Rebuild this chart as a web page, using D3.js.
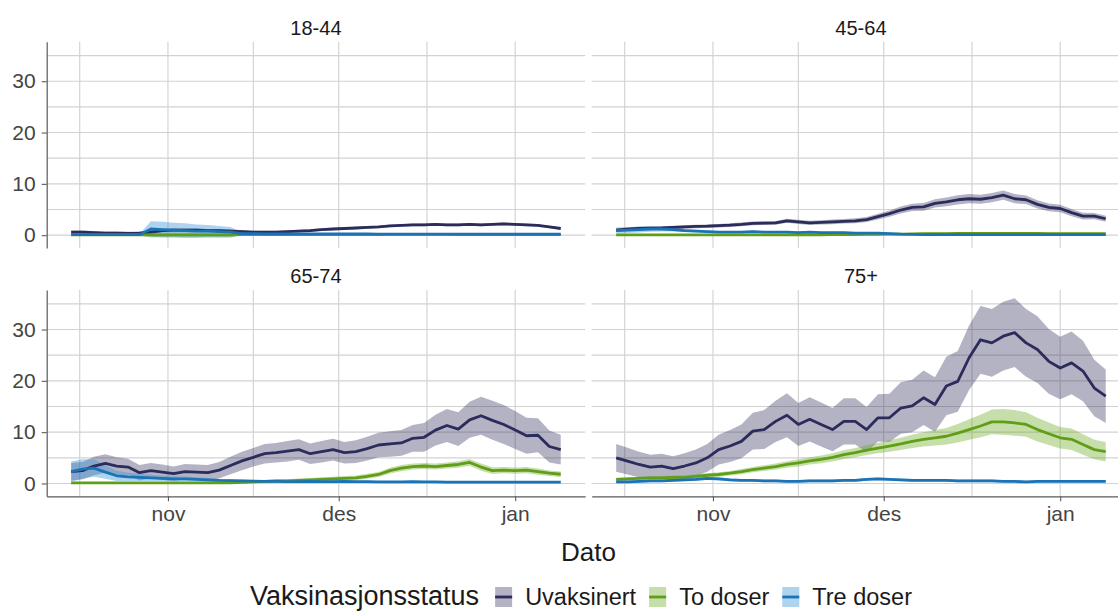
<!DOCTYPE html>
<html>
<head>
<meta charset="utf-8">
<script src="https://cdn.jsdelivr.net/npm/d3@7"></script>
<style>
  html, body { margin: 0; padding: 0; background: #ffffff; }
  svg { display: block; font-family: "Liberation Sans", Arial, Helvetica, sans-serif; }
</style>
</head>
<body>
<svg id="chart" width="1118" height="611"></svg>
<script>
// Observation dates (every second day)
const dates = [
  "2021-10-15","2021-10-17","2021-10-19","2021-10-21","2021-10-23","2021-10-25","2021-10-27","2021-10-29","2021-10-31",
  "2021-11-02","2021-11-04","2021-11-06","2021-11-08","2021-11-10","2021-11-12","2021-11-14","2021-11-16","2021-11-18",
  "2021-11-20","2021-11-22","2021-11-24","2021-11-26","2021-11-28","2021-11-30",
  "2021-12-02","2021-12-04","2021-12-06","2021-12-08","2021-12-10","2021-12-12","2021-12-14","2021-12-16","2021-12-18",
  "2021-12-20","2021-12-22","2021-12-24","2021-12-26","2021-12-28","2021-12-30",
  "2022-01-01","2022-01-03","2022-01-05","2022-01-07","2022-01-09"
];

const ageGroups = ["18-44", "45-64", "65-74", "75+"];
const statusNames = ["Uvaksinert", "To doser", "Tre doser"];

const xTickDates = ["2021-11-01", "2021-12-01", "2022-01-01"];
const xTickLabels = ["nov", "des", "jan"];
const yTicks = [0, 10, 20, 30];
const yMinorTicks = [5, 15, 25, 35];

// ---- 18-44 ----
const uvak_18_44 = [0.6,0.6,0.5,0.4,0.4,0.35,0.4,0.6,0.9,1.0,1.0,1.0,0.9,0.9,0.8,0.7,0.6,0.6,0.6,0.7,0.8,0.9,1.1,1.2,
  1.3,1.4,1.5,1.6,1.8,1.9,2.0,2.0,2.1,2.0,2.0,2.1,2.0,2.1,2.2,2.1,2.0,1.9,1.6,1.3];
const uvakBand_18_44 = [0.3,0.3,0.3,0.3,0.3,0.3,0.3,0.35,0.35,0.35,0.35,0.35,0.3,0.3,0.3,0.3,0.25,0.25,0.25,0.25,0.25,0.25,0.25,0.25,
  0.25,0.25,0.25,0.25,0.25,0.25,0.25,0.25,0.25,0.25,0.25,0.25,0.25,0.25,0.25,0.25,0.25,0.25,0.25,0.25];
const toDoser_18_44 = [0.05,0.05,0.05,0.05,0.05,0.05,0.05,0.05,0.05,0.05,0.05,0.05,0.05,0.05,0.05,0.1,0.1,0.1,0.1,0.1,0.1,0.1,0.1,0.1,
  0.1,0.1,0.1,0.1,0.15,0.15,0.15,0.15,0.15,0.15,0.1,0.1,0.1,0.1,0.1,0.1,0.1,0.1,0.1,0.1];
const toDoserBand_18_44 = [0.1,0.1,0.1,0.1,0.1,0.1,0.1,0.5,0.5,0.5,0.5,0.5,0.5,0.5,0.5,0.1,0.1,0.1,0.1,0.1,0.1,0.1,0.1,0.1,
  0.1,0.1,0.1,0.1,0.15,0.15,0.15,0.15,0.15,0.15,0.1,0.1,0.1,0.1,0.1,0.1,0.1,0.1,0.1,0.1];
const treDoser_18_44 = [0.1,0.1,0.1,0.1,0.1,0.1,0.1,1.2,1.1,1.0,0.9,0.8,0.8,0.7,0.6,0.3,0.3,0.25,0.25,0.25,0.25,0.25,0.25,0.25,
  0.25,0.25,0.25,0.2,0.2,0.2,0.2,0.2,0.2,0.2,0.2,0.2,0.2,0.2,0.2,0.2,0.2,0.2,0.2,0.2];
const treDoserBand_18_44 = [0.15,0.15,0.15,0.15,0.15,0.15,0.15,1.5,1.5,1.4,1.4,1.3,1.2,1.1,1.0,0.2,0.2,0.15,0.15,0.15,0.15,0.15,0.15,0.15,
  0.15,0.15,0.15,0.15,0.15,0.15,0.15,0.15,0.15,0.15,0.15,0.15,0.15,0.15,0.15,0.15,0.15,0.15,0.15,0.15];

// ---- 45-64 ----
const uvak_45_64 = [1.0,1.15,1.3,1.35,1.4,1.5,1.6,1.7,1.75,1.85,1.95,2.1,2.3,2.35,2.4,2.8,2.6,2.4,2.5,2.6,2.7,2.8,3.05,3.6,
  4.2,4.9,5.4,5.5,6.2,6.5,6.9,7.1,7.0,7.3,7.8,7.1,6.9,6.0,5.4,5.2,4.4,3.7,3.7,3.2];
const uvakBand_45_64 = [0.35,0.35,0.35,0.35,0.35,0.35,0.35,0.35,0.35,0.35,0.35,0.35,0.35,0.35,0.35,0.4,0.4,0.4,0.4,0.45,0.45,0.5,0.5,0.55,
  0.6,0.7,0.7,0.75,0.8,0.85,0.9,0.9,0.9,0.9,0.9,0.9,0.85,0.8,0.75,0.75,0.7,0.65,0.6,0.6];
const toDoser_45_64 = [0.05,0.05,0.05,0.05,0.05,0.05,0.05,0.05,0.05,0.05,0.05,0.05,0.05,0.05,0.05,0.05,0.05,0.05,0.05,0.1,0.1,0.12,0.15,0.18,
  0.2,0.22,0.25,0.28,0.3,0.32,0.35,0.35,0.35,0.35,0.35,0.35,0.35,0.35,0.3,0.3,0.3,0.3,0.3,0.3];
const toDoserBand_45_64 = [0.1,0.1,0.1,0.1,0.1,0.1,0.1,0.1,0.1,0.1,0.1,0.1,0.1,0.1,0.1,0.1,0.1,0.1,0.1,0.1,0.1,0.1,0.1,0.1,
  0.12,0.12,0.12,0.12,0.15,0.15,0.15,0.15,0.15,0.15,0.15,0.15,0.15,0.15,0.15,0.15,0.15,0.15,0.15,0.15];
const treDoser_45_64 = [0.9,1.0,1.1,1.2,1.2,1.1,0.9,0.8,0.7,0.6,0.6,0.6,0.7,0.6,0.6,0.6,0.5,0.6,0.5,0.5,0.5,0.4,0.4,0.4,
  0.3,0.2,0.15,0.1,0.1,0.1,0.1,0.1,0.1,0.1,0.1,0.1,0.1,0.1,0.1,0.1,0.1,0.1,0.1,0.1];
const treDoserBand_45_64 = [0.6,0.6,0.6,0.55,0.5,0.4,0.3,0.25,0.2,0.2,0.2,0.2,0.2,0.15,0.15,0.15,0.15,0.15,0.15,0.15,0.15,0.15,0.15,0.15,
  0.12,0.1,0.1,0.1,0.1,0.1,0.1,0.1,0.1,0.1,0.1,0.1,0.1,0.1,0.1,0.1,0.1,0.1,0.1,0.1];

// ---- 65-74 ----
const uvak_65_74 = [2.3,2.5,3.4,3.9,3.4,3.2,2.1,2.5,2.2,1.9,2.3,2.2,2.1,2.6,3.5,4.4,5.1,5.8,6.0,6.3,6.6,5.8,6.2,6.6,
  6.0,6.2,6.8,7.5,7.7,7.9,8.8,9.0,10.4,11.3,10.6,12.4,13.2,12.3,11.5,10.4,9.3,9.4,7.2,6.6];
const uvakBand_65_74 = [1.7,1.7,1.8,1.8,1.7,1.6,1.5,1.5,1.5,1.4,1.5,1.5,1.5,1.6,1.7,1.8,1.8,1.9,1.9,2.0,2.0,2.0,2.1,2.1,
  2.1,2.2,2.3,2.4,2.5,2.5,2.6,2.8,3.0,3.2,3.3,3.5,3.7,3.8,3.8,3.7,3.5,3.3,3.1,2.9];
const toDoser_65_74 = [0.1,0.1,0.1,0.1,0.1,0.1,0.1,0.1,0.1,0.1,0.1,0.1,0.1,0.1,0.1,0.2,0.3,0.4,0.5,0.5,0.6,0.7,0.8,0.9,
  1.0,1.1,1.4,1.75,2.5,3.0,3.3,3.4,3.3,3.5,3.7,4.1,3.2,2.5,2.6,2.5,2.6,2.3,2.0,1.8];
const toDoserBand_65_74 = [0.2,0.2,0.2,0.2,0.2,0.2,0.2,0.2,0.2,0.2,0.2,0.2,0.2,0.2,0.2,0.25,0.25,0.3,0.3,0.3,0.35,0.35,0.4,0.4,
  0.45,0.45,0.5,0.5,0.55,0.6,0.6,0.6,0.6,0.6,0.65,0.65,0.7,0.65,0.6,0.6,0.6,0.6,0.55,0.55];
const treDoser_65_74 = [2.3,2.8,3.0,2.2,1.5,1.3,1.2,1.1,1.0,0.9,0.9,0.8,0.7,0.6,0.55,0.5,0.45,0.4,0.4,0.35,0.35,0.4,0.35,0.35,
  0.4,0.35,0.35,0.3,0.3,0.3,0.35,0.3,0.3,0.25,0.25,0.25,0.25,0.25,0.25,0.25,0.25,0.25,0.25,0.25];
const treDoserBand_65_74 = [2.0,1.9,1.7,1.3,1.0,0.8,0.7,0.6,0.5,0.5,0.45,0.4,0.35,0.3,0.25,0.25,0.25,0.25,0.25,0.25,0.25,0.25,0.25,0.25,
  0.2,0.2,0.2,0.2,0.2,0.2,0.2,0.2,0.2,0.2,0.2,0.2,0.2,0.2,0.2,0.2,0.2,0.2,0.2,0.2];

// ---- 75+ ----
const uvak_75 = [5.0,4.35,3.7,3.2,3.4,2.9,3.4,4.0,5.0,6.6,7.3,8.2,10.2,10.5,12.1,13.3,11.5,12.5,11.5,10.5,12.1,12.1,10.5,12.8,
  12.8,14.7,15.1,16.7,15.4,19.0,19.9,24.5,28.0,27.4,28.7,29.4,27.4,26.1,23.8,22.5,23.5,21.9,18.6,17.0];
const uvakBand_75 = [2.7,2.6,2.5,2.4,2.4,2.4,2.5,2.6,2.7,2.9,3.1,3.3,3.6,3.8,4.0,4.3,4.2,4.3,4.3,4.2,4.5,4.5,4.4,4.6,
  4.7,5.0,5.1,5.3,5.3,5.7,5.9,6.3,6.6,6.6,6.7,6.7,6.6,6.5,6.3,6.1,6.1,5.9,5.5,5.2];
const toDoser_75 = [0.8,0.9,1.0,1.1,1.1,1.2,1.2,1.4,1.6,1.75,2.0,2.3,2.7,3.0,3.3,3.7,4.0,4.4,4.7,5.1,5.6,6.0,6.5,6.9,
  7.3,7.7,8.2,8.6,8.9,9.2,9.8,10.5,11.2,12.0,12.0,11.8,11.5,10.5,9.7,8.9,8.6,7.6,6.6,6.2];
const toDoserBand_75 = [0.3,0.3,0.3,0.35,0.35,0.35,0.4,0.4,0.4,0.45,0.45,0.5,0.5,0.55,0.6,0.65,0.7,0.7,0.75,0.8,0.85,0.9,0.95,1.0,
  1.1,1.2,1.3,1.4,1.5,1.6,1.8,2.0,2.2,2.4,2.5,2.5,2.4,2.3,2.2,2.1,2.1,2.0,1.9,1.9];
const treDoser_75 = [0.3,0.3,0.4,0.5,0.5,0.6,0.7,0.8,1.0,0.9,0.7,0.6,0.6,0.5,0.5,0.4,0.4,0.5,0.5,0.5,0.6,0.6,0.8,0.9,
  0.8,0.7,0.6,0.6,0.6,0.6,0.5,0.5,0.5,0.5,0.4,0.4,0.3,0.4,0.4,0.4,0.4,0.4,0.4,0.4];
const treDoserBand_75 = [0.25,0.25,0.25,0.25,0.25,0.25,0.25,0.25,0.3,0.3,0.25,0.25,0.25,0.25,0.25,0.25,0.25,0.25,0.25,0.25,0.25,0.25,0.25,0.25,
  0.25,0.25,0.25,0.25,0.25,0.25,0.25,0.25,0.25,0.25,0.25,0.25,0.25,0.25,0.25,0.25,0.25,0.25,0.25,0.25];

// Mean and half-width of the interval, per age group and status
const panelSeries = {
  "18-44": [[uvak_18_44, uvakBand_18_44], [toDoser_18_44, toDoserBand_18_44], [treDoser_18_44, treDoserBand_18_44]],
  "45-64": [[uvak_45_64, uvakBand_45_64], [toDoser_45_64, toDoserBand_45_64], [treDoser_45_64, treDoserBand_45_64]],
  "65-74": [[uvak_65_74, uvakBand_65_74], [toDoser_65_74, toDoserBand_65_74], [treDoser_65_74, treDoserBand_65_74]],
  "75+":   [[uvak_75, uvakBand_75], [toDoser_75, toDoserBand_75], [treDoser_75, treDoserBand_75]]
};

const lineColors = ["#2b2b5c", "#5f9e16", "#1b73b6"];
const bandColors = ["#2b2b5c", "#6aa81e", "#3f95d6"];
const bandOpacity = [0.36, 0.38, 0.42];

// ---- layout ----
const svg = d3.select("#chart");
const panelW = 538.5, panelH = 206.3;
const colX = [46.7, 591.7];
const rowY = [41.7, 290];

const parse = d3.utcParse("%Y-%m-%d");
const dateObjs = dates.map(parse);
const dMin = d3.min(dateObjs), dMax = d3.max(dateObjs);
const span = dMax - dMin;
const x = d3.scaleUtc()
  .domain([new Date(+dMin - 0.05 * span), new Date(+dMax + 0.05 * span)])
  .range([0, panelW]);
const y = d3.scaleLinear().domain([-2.5, 37.7]).range([panelH, 0]);

// minor date gridlines sit halfway between month starts
const monthStarts = d3.utcMonth.range(d3.utcMonth.floor(x.domain()[0]), d3.utcMonth.offset(x.domain()[1], 1));
const xMinor = [];
for (let i = 0; i < monthStarts.length - 1; i++) {
  const mid = new Date((+monthStarts[i] + +monthStarts[i + 1]) / 2);
  if (mid >= x.domain()[0] && mid <= x.domain()[1]) xMinor.push(mid);
}
const xMajor = xTickDates.map(parse);

const gridColor = "#d2d2d2";
const axisColor = "#5a5a5a";
const tickTextColor = "#444444";

const area = d3.area()
  .x(d => x(d.date))
  .y0(d => y(d.lo))
  .y1(d => y(d.hi));
const line = d3.line()
  .x(d => x(d.date))
  .y(d => y(d.v));

ageGroups.forEach((grp, pi) => {
  const col = pi % 2, row = Math.floor(pi / 2);
  const g = svg.append("g").attr("transform", `translate(${colX[col]},${rowY[row]})`);

  // grid
  const grid = g.append("g");
  grid.selectAll("line.h").data(yMinorTicks.concat(yTicks)).join("line")
    .attr("x1", 0).attr("x2", panelW)
    .attr("y1", d => y(d)).attr("y2", d => y(d))
    .attr("stroke", gridColor).attr("stroke-width", 1.15);
  grid.selectAll("line.v").data(xMinor.concat(xMajor)).join("line")
    .attr("y1", 0).attr("y2", panelH)
    .attr("x1", d => x(d)).attr("x2", d => x(d))
    .attr("stroke", gridColor).attr("stroke-width", 1.15);

  // strip label
  svg.append("text")
    .attr("x", colX[col] + panelW / 2)
    .attr("y", rowY[row] - 7)
    .attr("text-anchor", "middle")
    .attr("font-size", 20)
    .attr("fill", "#1a1a1a")
    .text(grp);

  const clipId = "clip" + pi;
  g.append("clipPath").attr("id", clipId)
    .append("rect").attr("width", panelW).attr("height", panelH);
  const plot = g.append("g").attr("clip-path", `url(#${clipId})`);

  const series = panelSeries[grp];
  // intervals first, then the lines on top
  series.forEach(([vals, hw], si) => {
    const rows = dateObjs.map((dt, i) => ({ date: dt, lo: vals[i] - hw[i], hi: vals[i] + hw[i] }));
    plot.append("path").datum(rows)
      .attr("d", area)
      .attr("fill", bandColors[si])
      .attr("fill-opacity", bandOpacity[si]);
  });
  series.forEach(([vals], si) => {
    const rows = dateObjs.map((dt, i) => ({ date: dt, v: vals[i] }));
    plot.append("path").datum(rows)
      .attr("d", line)
      .attr("fill", "none")
      .attr("stroke", lineColors[si])
      .attr("stroke-width", 2.8)
      .attr("stroke-linejoin", "round");
  });

  // y axis on the left column
  if (col === 0) {
    const ya = g.append("g").call(d3.axisLeft(y).tickValues(yTicks).tickSize(5).tickSizeOuter(0).tickPadding(6));
    ya.select(".domain").attr("stroke", axisColor).attr("stroke-width", 1.2);
    ya.selectAll(".tick line").attr("stroke", axisColor).attr("stroke-width", 1.1);
    ya.selectAll(".tick text").attr("font-size", 21).attr("fill", tickTextColor).attr("font-family", null);
  }
  // x axis on the bottom row
  if (row === 1) {
    const xa = g.append("g").attr("transform", `translate(0,${panelH})`)
      .call(d3.axisBottom(x).tickValues(xMajor).tickFormat((d, i) => xTickLabels[i]).tickSize(5).tickSizeOuter(0).tickPadding(5));
    xa.select(".domain").attr("stroke", axisColor).attr("stroke-width", 1.2);
    xa.selectAll(".tick line").attr("stroke", axisColor).attr("stroke-width", 1.1);
    xa.selectAll(".tick text").attr("font-size", 21).attr("fill", tickTextColor).attr("font-family", null);
  }
});

// x axis title
svg.append("text")
  .attr("x", (colX[0] + colX[1] + panelW) / 2)
  .attr("y", 561)
  .attr("text-anchor", "middle")
  .attr("font-size", 26)
  .attr("fill", "#1a1a1a")
  .text("Dato");

// legend
const legend = svg.append("g").attr("transform", "translate(250,597)");
const titleText = legend.append("text")
  .attr("x", 0).attr("y", 8)
  .attr("font-size", 27)
  .attr("fill", "#1a1a1a")
  .text("Vaksinasjonsstatus");
let cx = titleText.node().getComputedTextLength() + 16;
statusNames.forEach((name, si) => {
  const key = legend.append("g").attr("transform", `translate(${cx},0)`);
  key.append("rect")
    .attr("x", 0).attr("y", -10).attr("width", 17).attr("height", 20)
    .attr("fill", bandColors[si]).attr("fill-opacity", bandOpacity[si]);
  key.append("line")
    .attr("x1", 0).attr("x2", 17).attr("y1", 0).attr("y2", 0)
    .attr("stroke", lineColors[si]).attr("stroke-width", 2.8);
  const t = key.append("text")
    .attr("x", 30).attr("y", 8)
    .attr("font-size", 23.5)
    .attr("fill", "#1a1a1a")
    .text(name);
  cx += 30 + t.node().getComputedTextLength() + 13;
});
</script>
</body>
</html>
